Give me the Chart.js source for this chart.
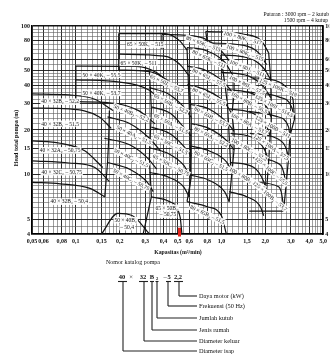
<!DOCTYPE html>
<html>
<head>
<meta charset="utf-8">
<script src="https://cdn.jsdelivr.net/npm/chart.js@4.4.1/dist/chart.umd.min.js"></script>
<style>
  body { margin: 0; background: #fff; }
  #wrap { position: relative; width: 331px; height: 360px; overflow: hidden; }
  #pumpChart { position: absolute; left: 0; top: 0; }
  #notes { position: absolute; left: 0; top: 0; }
  #notes text { font-family: "Liberation Serif", "DejaVu Serif", serif; fill: #111; }
  #notes line { stroke: #222; stroke-width: 1.1; }
</style>
</head>
<body>
<div id="wrap">
  <canvas id="pumpChart" width="331" height="250"></canvas>
  <svg id="notes" width="331" height="360">
    <text x="329" y="16" font-size="5.6" text-anchor="end">Putaran : 3000 rpm – 2 kutub</text>
    <text x="328" y="22" font-size="5.6" text-anchor="end">1500 rpm – 4 kutup</text>
    <text transform="translate(18,138) rotate(-90)" font-size="6" font-weight="bold" text-anchor="middle">Head total pompa (m)</text>
    <text x="178" y="254" font-size="5.8" font-weight="bold" text-anchor="middle">Kapasitas (m³/min)</text>
    <text x="133" y="264" font-size="6" text-anchor="middle">Nomor katalog pompa</text>

    <text x="122" y="279" font-size="6.5" font-weight="bold" text-anchor="middle">40</text>
    <text x="131" y="279" font-size="6.5" text-anchor="middle">×</text>
    <text x="143" y="279" font-size="6.5" font-weight="bold" text-anchor="middle">32</text>
    <text x="152" y="279" font-size="6.5" font-weight="bold" text-anchor="middle">B</text>
    <text x="157" y="280" font-size="4.5" font-weight="bold" text-anchor="middle">2</text>
    <text x="165" y="279" font-size="6.5" text-anchor="middle">–</text>
    <text x="169" y="279" font-size="6.5" font-weight="bold" text-anchor="middle">5</text>
    <text x="178" y="279" font-size="6.5" font-weight="bold" text-anchor="middle">2,2</text>

    <line x1="118" y1="281.5" x2="127" y2="281.5"/>
    <line x1="139" y1="281.5" x2="148" y2="281.5"/>
    <line x1="150" y1="281.5" x2="154" y2="281.5"/>
    <line x1="155.5" y1="281.5" x2="158.5" y2="281.5"/>
    <line x1="166" y1="281.5" x2="171" y2="281.5"/>
    <line x1="174" y1="281.5" x2="183" y2="281.5"/>

    <line x1="179" y1="281.5" x2="179" y2="296"/><line x1="179" y1="296" x2="197" y2="296"/>
    <line x1="168" y1="281.5" x2="168" y2="306"/><line x1="168" y1="306" x2="197" y2="306"/>
    <line x1="157" y1="281.5" x2="157" y2="318"/><line x1="157" y1="318" x2="197" y2="318"/>
    <line x1="152" y1="281.5" x2="152" y2="330"/><line x1="152" y1="330" x2="197" y2="330"/>
    <line x1="144" y1="281.5" x2="144" y2="341"/><line x1="144" y1="341" x2="197" y2="341"/>
    <line x1="123" y1="281.5" x2="123" y2="351"/><line x1="123" y1="351" x2="197" y2="351"/>

    <text x="199" y="298" font-size="6.3">Daya motor (kW)</text>
    <text x="199" y="308" font-size="6.3">Frekuensi (50 Hz)</text>
    <text x="199" y="320" font-size="6.3">Jumlah kutub</text>
    <text x="199" y="332" font-size="6.3">Jenis rumah</text>
    <text x="199" y="343" font-size="6.3">Diameter keluar</text>
    <text x="199" y="353" font-size="6.3">Diameter isap</text>
  </svg>
</div>
<script>
// head curves per pump size, points are [Q (m3/min), H (m)]
const curves40x32 = [
    [[0.05, 35], [0.09, 34.4], [0.135, 32.2], [0.18, 27]],
    [[0.05, 28.1], [0.09, 27.7], [0.145, 24.5], [0.175, 20.5]],
    [[0.05, 16.9], [0.078, 16.3], [0.115, 14.5], [0.153, 11.2]],
    [[0.05, 12.4], [0.09, 12], [0.135, 11.2], [0.17, 9]],
    [[0.05, 8.9], [0.078, 8.7], [0.125, 8.1], [0.158, 7.1]]
];
const curves50x40 = [
    [[0.1, 53.8], [0.26, 53.5], [0.36, 48.5], [0.45, 40]],
    [[0.1, 43.5], [0.2, 42], [0.32, 37], [0.4, 30]],
    [[0.1, 31], [0.17, 30.5], [0.27, 27], [0.35, 22]],
    [[0.165, 24.5], [0.234, 22.1], [0.32, 17.6], [0.38, 14.5]],
    [[0.157, 17.6], [0.234, 15.9], [0.31, 13], [0.36, 10.9]],
    [[0.165, 12.1], [0.234, 10.9], [0.31, 8.9], [0.34, 7.7]],
    [[0.15, 4], [0.194, 5.5], [0.245, 5.3], [0.32, 4]]
];
const curves65x50 = [
    [[0.197, 89], [0.41, 89], [0.513, 80], [0.58, 68.8]],
    [[0.197, 64.7], [0.405, 62.7], [0.513, 55.7], [0.6, 46.2]],
    [[0.197, 50.6], [0.32, 49.4], [0.438, 42.2], [0.525, 34.7]],
    [[0.32, 38.5], [0.438, 34.7], [0.55, 28.6], [0.62, 24.3]],
    [[0.33, 28.6], [0.45, 25.7], [0.55, 20.9], [0.62, 18.2]],
    [[0.33, 20.9], [0.438, 19], [0.55, 15.6], [0.62, 13.4]],
    [[0.32, 15.2], [0.438, 13.8], [0.55, 11.6], [0.6, 10]],
    [[0.32, 10.4], [0.438, 9.6], [0.55, 8.3], [0.6, 7.1]],
    [[0.33, 7.1], [0.44, 6.6], [0.52, 5.2], [0.535, 4]]
];
const curves80x65 = [
    [[0.39, 87.7], [0.7, 84.6], [0.96, 70.7], [1.16, 56.6]],
    [[0.58, 71.5], [0.77, 68.8], [1.05, 57.3], [1.22, 44.9]],
    [[0.58, 53.8], [0.77, 50.6], [1.05, 41.5], [1.22, 34.7]],
    [[0.58, 40.3], [0.77, 37.4], [1.05, 30.7], [1.18, 25.7]],
    [[0.6, 29.8], [0.82, 27.7], [1.09, 22.5], [1.22, 19.6]],
    [[0.62, 22.1], [0.82, 20.5], [1.09, 16.9], [1.22, 14.7]],
    [[0.62, 15.6], [0.82, 14.5], [1.09, 12.1], [1.18, 10.4]],
    [[0.6, 10], [0.82, 9.2], [1.05, 7.7], [1.13, 6.6]],
    [[0.58, 6.6], [0.8, 6.1], [1.0, 5.3], [1.08, 4]]
];
const curves100x80 = [
    [[0.78, 92], [1.43, 88], [1.87, 80], [2.11, 66]],
    [[0.82, 77], [1.43, 74], [1.8, 66], [2.04, 55]],
    [[0.99, 64], [1.54, 61], [1.95, 52], [2.18, 43.5]],
    [[0.99, 49], [1.54, 46], [1.95, 39], [2.18, 33]],
    [[1.09, 37.4], [1.67, 34.7], [2.04, 28.6], [2.2, 24.3]],
    [[1.13, 27.7], [1.67, 25.7], [2.04, 21.3], [2.15, 18.5]],
    [[1.16, 19], [1.67, 17.6], [1.98, 14.7], [2.11, 12.4]],
    [[1.16, 12.1], [1.67, 11.2], [1.95, 9], [2.04, 7.7]],
    [[1.13, 7.7], [1.5, 7.1], [1.85, 6.1], [1.95, 5.3]]
];
const curves125x100 = [
    [[1.65, 44.9], [2.47, 42.2], [2.95, 36.1], [3.1, 32.2]],
    [[1.49, 36.1], [2.47, 33.4], [3.03, 28.6], [3.18, 23.8]],
    [[1.54, 26.7], [2.38, 24.7], [2.89, 20.9], [2.95, 18.2]],
    [[1.57, 19], [2.38, 17.6], [2.77, 15.2], [2.89, 13]],
    [[1.65, 13], [2.38, 12.1], [2.7, 10], [2.77, 8.3]],
    [[1.7, 8.9], [2.47, 8.3], [2.64, 6.6], [2.67, 5.7]]
];

// straight region borders
const borders = [
    [[0.1, 53.8], [0.1, 31]],
    [[0.17, 27], [0.168, 17], [0.165, 12], [0.158, 7.1]],
    [[0.197, 89], [0.197, 50.6]],
    [[0.32, 49.4], [0.33, 27.7], [0.32, 13], [0.33, 7.1], [0.29, 4]],
    [[0.6, 46.2], [0.62, 24.3], [0.62, 13.4], [0.6, 7.1]],
    [[0.39, 87.7], [0.39, 70]],
    [[0.58, 71.5], [0.6, 30], [0.62, 9.6], [0.58, 6.6]],
    [[1.22, 44.9], [1.22, 34.7], [1.18, 25.7], [1.22, 19.6], [1.22, 14.7], [1.18, 10.4], [1.13, 6.6]],
    [[0.78, 92], [0.8, 77]],
    [[0.99, 64], [1.1, 30], [1.16, 11]],
    [[2.11, 66], [2.18, 43.5], [2.2, 24.3], [2.11, 12.4], [2.04, 7.7]],
    [[1.55, 5.7], [2.67, 5.7]],
    [[3.1, 32.2], [3.18, 23.8], [2.95, 18.2], [2.89, 13], [2.77, 8.3], [2.67, 5.7]]
];

// catalogue number written in each region: [text, Q, H, angle]
const regionLabels = [
    ['40 × 32B₂ – 52,2', 0.078, 31, 0],
    ['40 × 32B₁ – 51,5', 0.078, 22, 0],
    ['40 × 32A₂ – 50,75', 0.078, 14.6, 0],
    ['40 × 32C₂ – 50,75', 0.08, 10.4, 0],
    ['40 × 32B₂ – 50,4', 0.09, 6.6, 0],
    ['50 × 40K₁ – 55,5', 0.15, 47, 0],
    ['50 × 40K₁ – 53,7', 0.15, 35.5, 0],
    ['50 × 40B₂ – 52,2', 0.24, 26, 22],
    ['50 × 40A₂ – 51,5', 0.25, 18.5, 25],
    ['50 × 40C₂ – 51,5', 0.24, 13, 25],
    ['50 × 40C₂ – 50,75', 0.24, 9.3, 28],
    ['50 × 40B₂', 0.22, 4.95, 0],
    ['– 50,4', 0.225, 4.45, 0],
    ['65 × 50K₁ – 515', 0.3, 75, 0],
    ['65 × 50K₁ – 511', 0.27, 56.5, 0],
    ['65 × 50J₁ – 53,7', 0.42, 41, 25],
    ['65 × 50B₁ – 52,2', 0.45, 30, 28],
    ['65 × 50A₁ – 51,5', 0.45, 22, 28],
    ['65 × 50C₁ – 51,5', 0.45, 16, 28],
    ['65 × 50C₂ – 50,75', 0.45, 11.6, 28],
    ['65 × 50B₂', 0.42, 6.0, 0],
    ['– 50,75', 0.43, 5.4, 0],
    ['80 × 65K₁ – 515', 0.75, 76, 20],
    ['80 × 65K₂ – 511', 0.82, 60, 25],
    ['80 × 65J₁ – 57,5', 0.82, 45, 25],
    ['80 × 65J₂ – 55,5', 0.82, 33.5, 25],
    ['80 × 65B₁ – 53,7', 0.85, 24.5, 28],
    ['80 × 65A₁ – 52,2', 0.85, 18, 28],
    ['80 × 65C₂ – 51,5', 0.85, 12.4, 28],
    ['80 × 65B₂ – 51,5', 0.8, 5.4, 25],
    ['100 × 80K₁ – 517', 1.4, 83, 15],
    ['100 × 80K₂ – 515', 1.45, 66, 20],
    ['100 × 80J₁ – 511', 1.5, 52, 22],
    ['100 × 80J₂ – 57,5', 1.5, 40, 25],
    ['100 × 80B₁ – 55,5', 1.55, 30.5, 28],
    ['100 × 80A₂ – 53,7', 1.55, 22, 28],
    ['100 × 80C₂ – 52,2', 1.55, 14.8, 30],
    ['100 × 80B₂ – 53,7', 1.5, 9.4, 30],
    ['125 × 100K – 518', 2.45, 38.5, 22],
    ['125 × 100J – 514,5', 2.3, 29, 28],
    ['125 × 100B – 511', 2.25, 21, 30],
    ['125 × 100A – 57,5', 2.2, 15.3, 35],
    ['125 × 100C – 55,5', 2.2, 10.6, 40],
    ['125 × 100B₂ – 53,7', 2.15, 7.2, 40]
];

const xTickValues = [0.05, 0.06, 0.08, 0.1, 0.15, 0.2, 0.3, 0.4, 0.5, 0.6, 0.8, 1, 1.5, 2, 3, 4, 5];
const xTickLabels = ['0,05', '0,06', '0,08', '0,1', '0,15', '0,2', '0,3', '0,4', '0,5', '0,6', '0,8', '1,0', '1,5', '2,0', '3,0', '4,0', '5,0'];
const yTickValues = [4, 5, 10, 15, 20, 30, 40, 50, 60, 80, 100];

// log paper rulings: [from, to, step]
function ruling(parts, last) {
    const out = [];
    parts.forEach(([a, b, s]) => {
        const n = Math.round((b - a) / s);
        for (let i = 0; i < n; i++) out.push(+(a + i * s).toFixed(4));
    });
    out.push(last);
    return out;
}
const xGrid = ruling([[0.05, 0.1, 0.005], [0.1, 0.2, 0.01], [0.2, 0.5, 0.02], [0.5, 1, 0.05], [1, 2, 0.1], [2, 5, 0.2]], 5);
const yGrid = ruling([[4, 10, 0.5], [10, 20, 1], [20, 50, 2], [50, 100, 5]], 100);

const near = (list, v) => list.findIndex(t => Math.abs(t - v) < 1e-6);

function gridStyle(list, lo, hi) {
    return {
        drawTicks: false,
        color: c => near(list, c.tick.value) >= 0 ? '#151515' : '#5c5c5c',
        lineWidth: c => {
            const v = c.tick.value;
            if (Math.abs(v - lo) < 1e-6 || Math.abs(v - hi) < 1e-6) return 1.6;
            return near(list, v) >= 0 ? 0.9 : 0.6;
        }
    };
}

const tickFont = { family: 'Liberation Serif', size: 6, weight: 'bold' };

const toPoints = pts => pts.map(([q, h]) => ({ x: q, y: h }));
const allCurves = [].concat(curves40x32, curves50x40, curves65x50, curves80x65, curves100x80, curves125x100);

const datasets = allCurves.map(pts => ({
    data: toPoints(pts), borderColor: '#141414', borderWidth: 1.2, pointRadius: 0,
    cubicInterpolationMode: 'monotone'
})).concat(borders.map(pts => ({
    data: toPoints(pts), borderColor: '#141414', borderWidth: 1.2, pointRadius: 0, tension: 0
})));

// the red pencil mark near 0,5
datasets.push({
    data: [{ x: 0.515, y: 4.4 }, { x: 0.515, y: 3.85 }],
    borderColor: '#e3231b', borderWidth: 3, pointRadius: 0, clip: false
});

const labelPlugin = {
    id: 'regionLabels',
    afterDatasetsDraw(chart) {
        const { ctx, scales: { x, y } } = chart;
        ctx.save();
        ctx.font = '5.5px "Liberation Serif", "DejaVu Serif", serif';
        ctx.textAlign = 'center';
        ctx.textBaseline = 'middle';
        regionLabels.forEach(([txt, q, h, ang]) => {
            const px = x.getPixelForValue(q);
            const py = y.getPixelForValue(h);
            const w = ctx.measureText(txt).width;
            ctx.save();
            ctx.translate(px, py);
            ctx.rotate(ang * Math.PI / 180);
            ctx.fillStyle = 'rgba(255,255,255,0.92)';
            ctx.fillRect(-w / 2 - 1, -3.3, w + 2, 6.6);
            ctx.fillStyle = '#111';
            ctx.fillText(txt, 0, 0.3);
            ctx.restore();
        });
        ctx.restore();
    }
};

new Chart(document.getElementById('pumpChart'), {
    type: 'line',
    data: { datasets: datasets },
    options: {
        responsive: false,
        animation: false,
        events: [],
        layout: { padding: { top: 26, left: 0, right: 0, bottom: 0 } },
        plugins: { legend: { display: false }, tooltip: { enabled: false } },
        scales: {
            x: {
                type: 'logarithmic', min: 0.05, max: 5,
                afterBuildTicks: s => { s.ticks = xGrid.map(v => ({ value: v })); },
                afterFit: s => { s.height = 16; },
                grid: gridStyle(xTickValues, 0.05, 5),
                border: { color: '#000', width: 1.6 },
                ticks: {
                    autoSkip: false, maxRotation: 0, minRotation: 0, padding: 4,
                    font: tickFont, color: '#111',
                    callback: v => { const i = near(xTickValues, v); return i >= 0 ? xTickLabels[i] : ''; }
                }
            },
            y: {
                type: 'logarithmic', min: 4, max: 100,
                afterBuildTicks: s => { s.ticks = yGrid.map(v => ({ value: v })); },
                afterFit: s => { s.width = 32; },
                grid: gridStyle(yTickValues, 4, 100),
                border: { color: '#000', width: 1.6 },
                ticks: {
                    autoSkip: false, padding: 2, font: tickFont, color: '#111',
                    callback: v => near(yTickValues, v) >= 0 ? String(v) : ''
                }
            },
            y2: {
                type: 'logarithmic', position: 'right', min: 4, max: 100,
                afterBuildTicks: s => { s.ticks = yTickValues.map(v => ({ value: v })); },
                afterFit: s => { s.width = 6; },
                grid: { drawOnChartArea: false, drawTicks: false },
                border: { color: '#000', width: 1.6 },
                ticks: {
                    autoSkip: false, padding: 2, font: tickFont, color: '#111',
                    callback: v => String(v)
                }
            }
        }
    },
    plugins: [labelPlugin]
});
</script>
</body>
</html>
